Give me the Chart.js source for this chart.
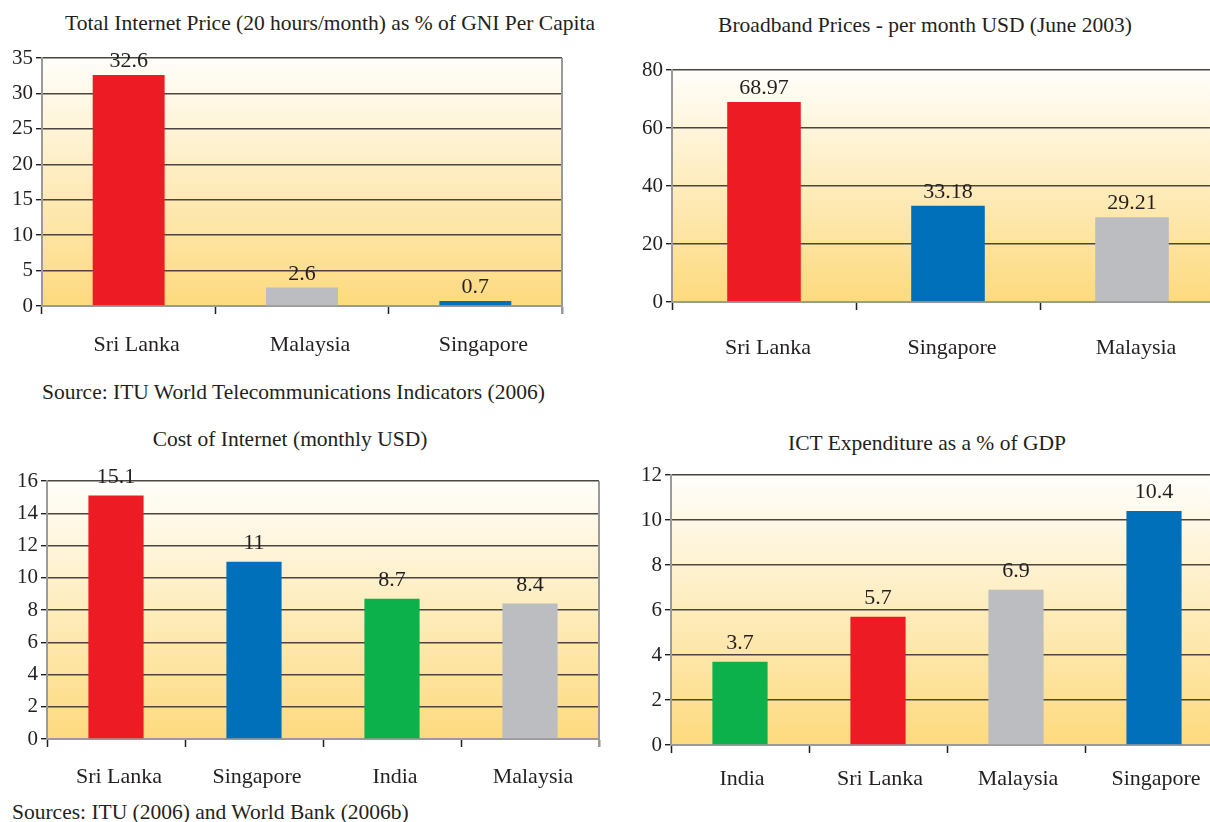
<!DOCTYPE html>
<html>
<head>
<meta charset="utf-8">
<script src="https://cdn.jsdelivr.net/npm/chart.js@4.4.0/dist/chart.umd.min.js"></script>
<style>
  html, body { margin: 0; padding: 0; background: #fff; overflow: hidden; }
  body { width: 1210px; height: 822px; position: relative; font-family: 'Liberation Serif', 'Times New Roman', serif; color: #231f20; }
  .box { position: absolute; }
  .txt { position: absolute; white-space: nowrap; font-size: 21.5px; line-height: 24px; }
  .ttl { transform: translateX(-50%); }
</style>
</head>
<body>
<div class="txt ttl" style="left:330px;top:11px;">Total Internet Price (20 hours/month) as % of GNI Per Capita</div>
<div class="txt ttl" style="left:925px;top:13px;">Broadband Prices - per month USD (June 2003)</div>
<div class="txt ttl" style="left:290px;top:427px;">Cost of Internet (monthly USD)</div>
<div class="txt ttl" style="left:927px;top:431px;">ICT Expenditure as a % of GDP</div>
<div class="txt" style="left:42px;top:380px;">Source: ITU World Telecommunications Indicators (2006)</div>
<div class="txt" style="left:12px;top:800px;">Sources: ITU (2006) and World Bank (2006b)</div>

<div class="box" style="left:0;top:0;width:575px;height:370px;"><canvas id="c1"></canvas></div>
<div class="box" style="left:610px;top:0;width:640px;height:370px;"><canvas id="c2"></canvas></div>
<div class="box" style="left:0;top:400px;width:610px;height:400px;"><canvas id="c3"></canvas></div>
<div class="box" style="left:610px;top:400px;width:640px;height:400px;"><canvas id="c4"></canvas></div>

<script>
// couleurs des pays
const RED = '#ed1c24';
const BLUE = '#0070bb';
const GREY = '#bcbdc0';
const GREEN = '#0db14b';

// Graphique 1 : prix internet en % du RNB
const gniLabels = ['Sri Lanka', 'Malaysia', 'Singapore'];
const gniValues = [32.6, 2.6, 0.7];
const gniColors = [RED, GREY, BLUE];
const gniTicks = { max: 35, step: 5 };

// Graphique 2 : prix haut débit
const bbLabels = ['Sri Lanka', 'Singapore', 'Malaysia'];
const bbValues = [68.97, 33.18, 29.21];
const bbColors = [RED, BLUE, GREY];
const bbTicks = { max: 80, step: 20 };

// Graphique 3 : coût internet mensuel
const costLabels = ['Sri Lanka', 'Singapore', 'India', 'Malaysia'];
const costValues = [15.1, 11, 8.7, 8.4];
const costColors = [RED, BLUE, GREEN, GREY];
const costTicks = { max: 16, step: 2 };

// Graphique 4 : dépenses TIC en % du PIB
const ictLabels = ['India', 'Sri Lanka', 'Malaysia', 'Singapore'];
const ictValues = [3.7, 5.7, 6.9, 10.4];
const ictColors = [GREEN, RED, GREY, BLUE];
const ictTicks = { max: 12, step: 2 };

const FONT = "'Liberation Serif', 'Times New Roman', serif";

/**
 * Fond dégradé, bordure droite et étiquettes de valeurs
 */
const decorPlugin = {
    id: 'decor',
    beforeDraw(chart) {
        const a = chart.chartArea;
        const ctx = chart.ctx;
        const g = ctx.createLinearGradient(0, a.top, 0, a.bottom);
        g.addColorStop(0, '#fffefb');
        g.addColorStop(1, '#fdda7e');
        ctx.save();
        ctx.fillStyle = g;
        ctx.fillRect(a.left, a.top, a.right - a.left, a.bottom - a.top);
        ctx.restore();
    },
    afterDatasetsDraw(chart, args, opts) {
        const ctx = chart.ctx;
        const a = chart.chartArea;
        ctx.save();
        if (opts.rightBorder) {
            ctx.strokeStyle = '#9a9a9a';
            ctx.lineWidth = 2;
            ctx.beginPath();
            ctx.moveTo(a.right, a.top);
            ctx.lineTo(a.right, a.bottom + 8);
            ctx.stroke();
        }
        ctx.fillStyle = '#231f20';
        ctx.font = '22px ' + FONT;
        ctx.textAlign = 'center';
        ctx.textBaseline = 'alphabetic';
        const ds = chart.data.datasets[0];
        chart.getDatasetMeta(0).data.forEach((bar, i) => {
            ctx.fillText(String(ds.data[i]), bar.x, bar.y - opts.gap);
        });
        ctx.restore();
    }
};

function makeChart(id, labels, values, colors, ticks, cfg) {
    return new Chart(document.getElementById(id), {
        type: 'bar',
        data: {
            labels: labels,
            datasets: [{
                data: values,
                backgroundColor: colors,
                borderWidth: 0,
                categoryPercentage: 1,
                barPercentage: cfg.barPct,
            }]
        },
        plugins: [decorPlugin],
        options: {
            responsive: true,
            maintainAspectRatio: false,
            animation: false,
            layout: { padding: { left: 0, right: cfg.padRight, top: cfg.padTop, bottom: 0 } },
            plugins: {
                legend: { display: false },
                tooltip: { enabled: false },
                decor: { rightBorder: cfg.rightBorder, gap: cfg.gap },
            },
            scales: {
                x: {
                    afterFit: (s) => { s.height = cfg.xHeight; },
                    grid: {
                        drawOnChartArea: false,
                        drawTicks: true,
                        tickLength: 8,
                        tickColor: '#231f20',
                        tickWidth: 1.5,
                    },
                    border: { color: '#9a9a9a', width: 2 },
                    ticks: {
                        color: '#231f20',
                        padding: cfg.xPad,
                        labelOffset: cfg.labelShift,
                        font: { family: FONT, size: 22 },
                    },
                },
                y: {
                    min: 0,
                    max: ticks.max,
                    afterFit: (s) => { s.width = cfg.yWidth; },
                    grid: {
                        color: '#4a4540',
                        lineWidth: 1.4,
                        tickLength: 6,
                        tickColor: '#231f20',
                    },
                    border: { color: '#9a9a9a', width: 2 },
                    ticks: {
                        stepSize: ticks.step,
                        color: '#231f20',
                        padding: 3,
                        font: { family: FONT, size: 21 },
                    },
                },
            },
        },
    });
}

makeChart('c1', gniLabels, gniValues, gniColors, gniTicks,
    { barPct: 0.415, padRight: 13, padTop: 58, xHeight: 64, yWidth: 42, xPad: 18, gap: 8, labelShift: 8, rightBorder: true });
makeChart('c2', bbLabels, bbValues, bbColors, bbTicks,
    { barPct: 0.4, padRight: 26, padTop: 70, xHeight: 68, yWidth: 62, xPad: 25, gap: 8, labelShift: 4, rightBorder: false });
makeChart('c3', costLabels, costValues, costColors, costTicks,
    { barPct: 0.4, padRight: 11, padTop: 81, xHeight: 61, yWidth: 47, xPad: 17, gap: 13, labelShift: 3, rightBorder: true });
makeChart('c4', ictLabels, ictValues, ictColors, ictTicks,
    { barPct: 0.4, padRight: 27, padTop: 75, xHeight: 55, yWidth: 61, xPad: 13, gap: 13, labelShift: 2, rightBorder: false });
</script>
</body>
</html>
